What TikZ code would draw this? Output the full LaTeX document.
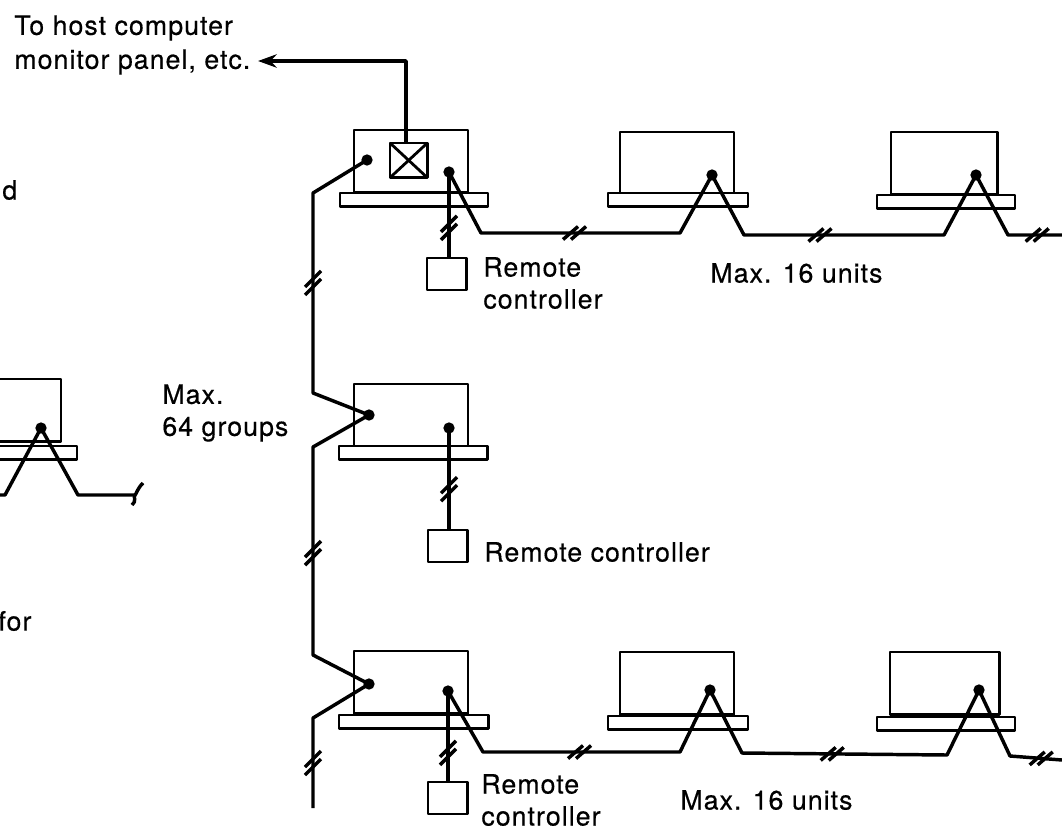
\documentclass[tikz,border=0pt]{standalone}
\usepackage{fontspec}
\setmainfont[LetterSpace=4,FakeBold=0.5]{TeX Gyre Heros}
\usetikzlibrary{arrows.meta, positioning}

\begin{document}
\begin{tikzpicture}[
      x=0.75pt, y=-0.75pt,
      line width=2.1pt, line join=round,
      wire/.style={line width=2.6pt},
      unit/.style={draw, anchor=north west, inner sep=0pt, outer sep=0pt,
                   minimum width=85.5pt, minimum height=47pt},
      tray/.style={draw, fill=white, anchor=north west, inner sep=0pt, outer sep=0pt,
                   minimum width=105pt, minimum height=10pt},
      remote/.style={draw, anchor=north west, inner sep=0pt, outer sep=0pt,
                     minimum width=29.5pt, minimum height=24pt},
      adapter/.style={draw, anchor=north west, inner sep=0pt, outer sep=0pt,
                      minimum width=28pt, minimum height=26pt},
      dot/.style={circle, fill=black, inner sep=0pt, minimum size=8.5pt},
      txt/.style={anchor=west, align=left, inner sep=0pt,
                  font=\fontsize{20}{24}\selectfont},
      pics/vbrk/.style={code={
        \draw (-8,4) -- (8,-12);
        \draw (-8,12) -- (8,-4);}},
      pics/hbrk/.style={code={
        \draw (-11.5,6.5) -- (3.5,-6.5);
        \draw (-3.5,6.5) -- (11.5,-6.5);}},
      pics/wavy/.style={code={
        \draw (8,-12) .. controls (2,-6) and (2,-2) .. (0,0)
              .. controls (-2,2) and (2,6) .. (-3,10);}},
      >={Stealth[length=14pt, width=10pt]}
    ]
    \clip (0,0) rectangle (1062,831);

    % top row
    \node[unit] (unita) at (354,130) {};
    \node[unit] (unitb) at (620,132) {};
    \node[unit, minimum width=80pt] (unitc) at (891,132) {};
    \node[tray, minimum width=111pt] (traya) at (340,193) {};
    \node[tray] (trayb) at (608,193) {};
    \node[tray, minimum width=103.5pt] (trayc) at (877,195) {};

    % middle row
    \node[unit] (unitd) at (354,384) {};
    \node[tray, minimum width=111.5pt] (trayd) at (339,446) {};
    \node[unit, minimum width=120pt] (unite) at (-99,379) {};
    \node[tray, minimum width=135pt] (traye) at (-103,446) {};

    % bottom row
    \node[unit] (unitf) at (354,651) {};
    \node[unit] (unitg) at (620,652) {};
    \node[unit, minimum width=82pt] (unith) at (890,652) {};
    \node[tray, minimum width=112pt] (trayf) at (339,715) {};
    \node[tray] (trayg) at (608,716) {};
    \node[tray, minimum width=103.5pt] (trayh) at (877,717) {};

    \node[adapter] (adapter) at (390,143) {};
    \draw (adapter.north west) -- (adapter.south east);
    \draw (adapter.north east) -- (adapter.south west);

    \node[dot] (busa) at (367,160) {};
    \node[dot] (rca)  at (449,172) {};
    \node[dot] (linkb) at (712,175) {};
    \node[dot] (linkc) at (976,175) {};
    \node[dot] (busd) at (369,415) {};
    \node[dot] (rcd)  at (449,428) {};
    \node[dot] (linke) at (41,428) {};
    \node[dot] (busf) at (369,684) {};
    \node[dot] (rcf)  at (448,691) {};
    \node[dot] (linkg) at (710,690) {};
    \node[dot] (linkh) at (979,690) {};

    \node[remote] (remotea) at (427,258) {};
    \node[remote] (remoted) at (428,530) {};
    \node[remote] (remotef) at (428,782) {};

    \node[txt, font=\fontsize{20}{25.5}\selectfont] (host) at (13,45) {To host computer\\monitor panel, etc.};
    \node[txt] (cutd) at (1,190) {d};
    \node[txt] (cutfor) at (-3,621) {for};
    \node[txt] (groups) at (161,413) {Max.\\64 groups};
    \node[txt] (rctexta) at (482,283) {Remote\\controller};
    \node[txt] (rctextd) at (483,552) {Remote controller};
    \node[txt] (rctextf) at (480,800) {Remote\\controller};
    \node[txt] (maxa) at (709,273) {Max. 16 units};
    \node[txt] (maxf) at (679,800) {Max. 16 units};

    \coordinate (hostend) at (258,61);
    \coordinate (hostbend) at (406,61);
    \coordinate (a1) at (313,193);
    \coordinate (a2) at (313,393);
    \coordinate (a3) at (313,447);
    \coordinate (a4) at (313,655);
    \coordinate (a5) at (313,718);
    \coordinate (a6) at (313,808);

    \coordinate (b1) at (481,233);
    \coordinate (b2) at (680,233);
    \coordinate (b3) at (744,235);
    \coordinate (b4) at (944,235);
    \coordinate (b5) at (1008,235);
    \coordinate (b6) at (1062,235);

    \coordinate (c1) at (5,495);
    \coordinate (c2) at (-5,495);
    \coordinate (c3) at (78,495);
    \coordinate (c4) at (135,495);

    \coordinate (d1) at (483,752);
    \coordinate (d2) at (680,752);
    \coordinate (d3) at (742,753);
    \coordinate (d4) at (947,755);
    \coordinate (d5) at (1010,756);
    \coordinate (d6) at (1062,760);

    \draw[->, wire] (hostbend |- adapter.north) -- (hostbend) -- (hostend);

    \draw[wire] (busa.center) -- (a1) -- pic[pos=.45]{vbrk} (a2) -- (busd.center)
          -- (a3) -- pic[pos=.51]{vbrk} (a4) -- (busf.center) -- (a5)
          -- pic[pos=.5]{vbrk} (a6);

    \draw[wire] (rca.center) -- pic[pos=.65]{vbrk} (rca.center |- remotea.north);
    \draw[wire] (rcd.center) -- pic[pos=.6]{vbrk} (rcd.center |- remoted.north);
    \draw[wire] (rcf.center) -- pic[pos=.68]{vbrk} (rcf.center |- remotef.north);

    \draw[wire] (rca.center) -- (b1) -- pic[pos=.47]{hbrk} (b2) -- (linkb.center) -- (b3)
          -- pic[pos=.38]{hbrk} (b4) -- (linkc.center) -- (b5)
          -- pic[pos=.54]{hbrk} (b6);

    \draw[wire] (c2) -- (c1) -- (linke.center) -- (c3) -- (c4) pic{wavy};

    \draw[wire] (rcf.center) -- (d1) -- pic[pos=.49]{hbrk} (d2) -- (linkg.center) -- (d3)
          -- pic[pos=.44]{hbrk} (d4) -- (linkh.center) -- (d5)
          -- pic[pos=.6]{hbrk} (d6);
  \end{tikzpicture}
\end{document}
